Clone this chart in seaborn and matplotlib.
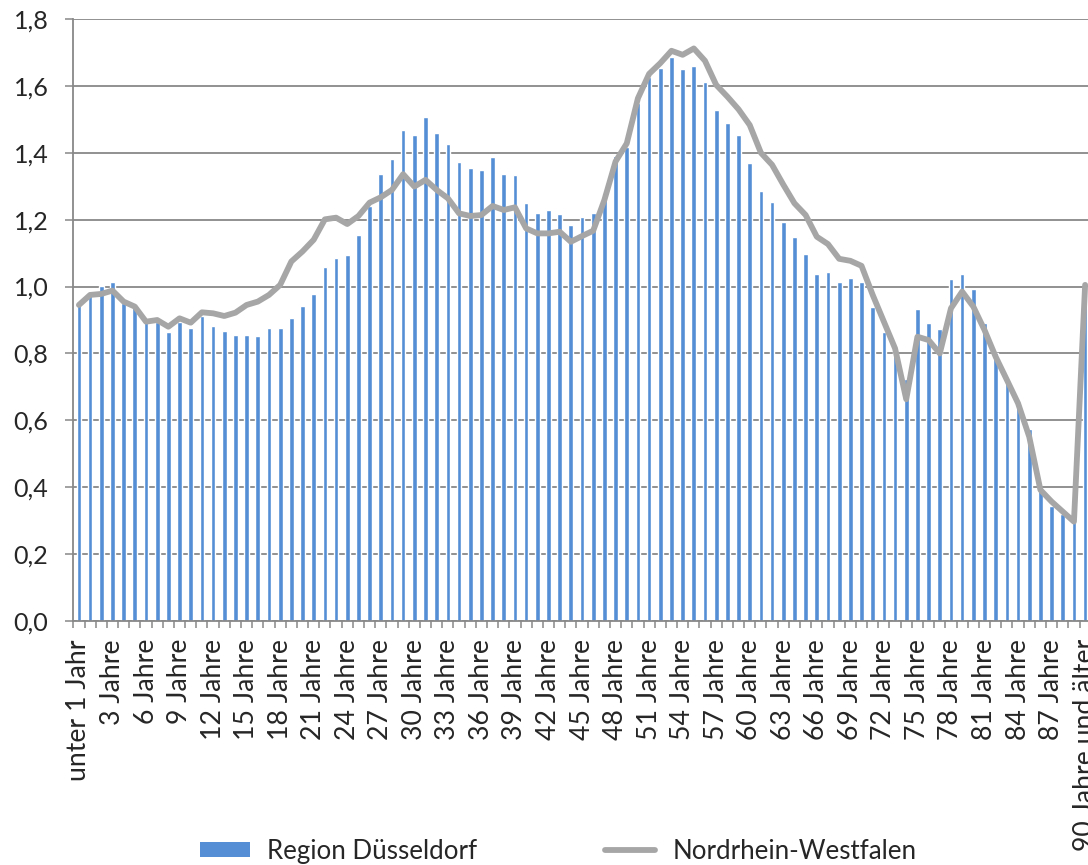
import numpy as np
import pandas as pd
import seaborn as sns
import matplotlib
matplotlib.use("Agg")
import matplotlib.pyplot as plt
from matplotlib.ticker import FixedLocator, FuncFormatter
from matplotlib.patches import Patch
from matplotlib.lines import Line2D

# --- data ---
ages = ["unter 1 Jahr", "1 Jahr"] + [f"{i} Jahre" for i in range(2, 90)] + ["90 Jahre und älter"]

region_duesseldorf = [
    0.955, 0.982, 1.002, 1.014, 0.950, 0.948, 0.893, 0.893, 0.865, 0.895,
    0.877, 0.912, 0.883, 0.868, 0.855, 0.854, 0.852, 0.875, 0.875, 0.907,
    0.942, 0.978, 1.059, 1.086, 1.094, 1.155, 1.241, 1.338, 1.381, 1.468,
    1.452, 1.508, 1.458, 1.426, 1.373, 1.355, 1.348, 1.388, 1.336, 1.333,
    1.251, 1.219, 1.229, 1.217, 1.183, 1.207, 1.219, 1.276, 1.391, 1.418,
    1.550, 1.626, 1.655, 1.685, 1.651, 1.660, 1.613, 1.527, 1.488, 1.452,
    1.370, 1.285, 1.253, 1.194, 1.147, 1.097, 1.037, 1.043, 1.015, 1.026,
    1.015, 0.940, 0.865, 0.812, 0.724, 0.932, 0.891, 0.872, 1.023, 1.037,
    0.993, 0.892, 0.802, 0.720, 0.656, 0.574, 0.390, 0.345, 0.320, 0.295,
    1.000,
]

nordrhein_westfalen = [
    0.945, 0.975, 0.978, 0.988, 0.955, 0.940, 0.895, 0.900, 0.880, 0.905,
    0.892, 0.923, 0.920, 0.912, 0.922, 0.945, 0.955, 0.975, 1.005, 1.075,
    1.105, 1.140, 1.201, 1.206, 1.187, 1.211, 1.251, 1.267, 1.289, 1.336,
    1.299, 1.319, 1.289, 1.264, 1.219, 1.211, 1.214, 1.241, 1.229, 1.237,
    1.174, 1.159, 1.159, 1.164, 1.134, 1.151, 1.167, 1.259, 1.374, 1.428,
    1.563, 1.636, 1.668, 1.705, 1.693, 1.712, 1.675, 1.603, 1.568, 1.530,
    1.483, 1.400, 1.364, 1.305, 1.249, 1.214, 1.149, 1.127, 1.083, 1.077,
    1.062, 0.975, 0.895, 0.815, 0.663, 0.850, 0.840, 0.800, 0.935, 0.985,
    0.940, 0.870, 0.790, 0.721, 0.651, 0.551, 0.392, 0.357, 0.327, 0.297,
    1.005,
]

series_names = ["Region Düsseldorf", "Nordrhein-Westfalen"]
bar_color = "#558ED5"
line_color = "#A6A6A6"
grid_color = "#888888"

df = pd.DataFrame({"Alter": ages,
                   series_names[0]: region_duesseldorf,
                   series_names[1]: nordrhein_westfalen})
df["pos"] = np.arange(len(df))

sns.set_style("white")
plt.rcParams["font.family"] = ["Lato", "DejaVu Sans"]

fig = plt.figure(figsize=(10.88, 8.65), dpi=100)
# axes run slightly past the right edge, like the cropped original
ax = fig.add_axes([0.0674, 0.2821, 0.9351, 0.6959])

sns.barplot(data=df, x="Alter", y=series_names[0], order=ages,
            color=bar_color, saturation=1, width=0.42, ax=ax, zorder=2)
sns.lineplot(data=df, x="pos", y=series_names[1], color=line_color,
             linewidth=4.2, ax=ax, zorder=3)

ax.set_xlim(-0.5, len(ages) - 0.5)
ax.set_ylim(0, 1.8)
ax.set_xlabel("")
ax.set_ylabel("")


def fit_size(text, base, target_px):
    # font size (pt) that makes `text` about target_px wide
    renderer = fig.canvas.get_renderer()
    t = fig.text(0, 0, text, fontsize=base)
    w = t.get_window_extent(renderer).width
    t.remove()
    return base * target_px / w


xlab_size = fit_size("unter 1 Jahr", 18, 141)
ylab_size = fit_size("1,8", 18, 35)
leg_size = fit_size("Nordrhein-Westfalen", 18, 243)

# y axis
ax.set_yticks(np.arange(0, 1.81, 0.2))
ax.yaxis.set_major_formatter(FuncFormatter(lambda v, _: f"{v:.1f}".replace(".", ",")))
ax.yaxis.grid(True, color=grid_color, linewidth=1.3)
ax.set_axisbelow(True)
ax.tick_params(axis="y", length=6, width=1.1, color=grid_color,
               labelsize=ylab_size, pad=12, direction="out", left=True)

# x axis: labels every 3rd category, tick marks between categories
label_pos = list(range(0, len(ages), 3))
ax.xaxis.set_major_locator(FixedLocator(label_pos))
ax.set_xticklabels([ages[i] for i in label_pos], rotation=90, fontsize=xlab_size)
ax.xaxis.set_minor_locator(FixedLocator(np.arange(-0.5, len(ages), 1.0)))
ax.tick_params(axis="x", which="major", length=0, pad=13)
ax.tick_params(axis="x", which="minor", length=5, width=1.1, color=grid_color,
               direction="out", bottom=True)

for side in ["top", "right"]:
    ax.spines[side].set_visible(False)
for side in ["left", "bottom"]:
    ax.spines[side].set_color(grid_color)
    ax.spines[side].set_linewidth(1.3)

em_px = leg_size * 100 / 72
handles = [Patch(facecolor=bar_color, edgecolor="none"),
           Line2D([0], [0], color=line_color, linewidth=4.2)]
fig.legend(handles, series_names, loc="center", bbox_to_anchor=(0.513, 0.016),
           ncol=2, frameon=False, fontsize=leg_size, handlelength=50 / em_px,
           handleheight=0.5, handletextpad=17 / em_px, columnspacing=128 / em_px)

fig.savefig("out.png", dpi=100)
